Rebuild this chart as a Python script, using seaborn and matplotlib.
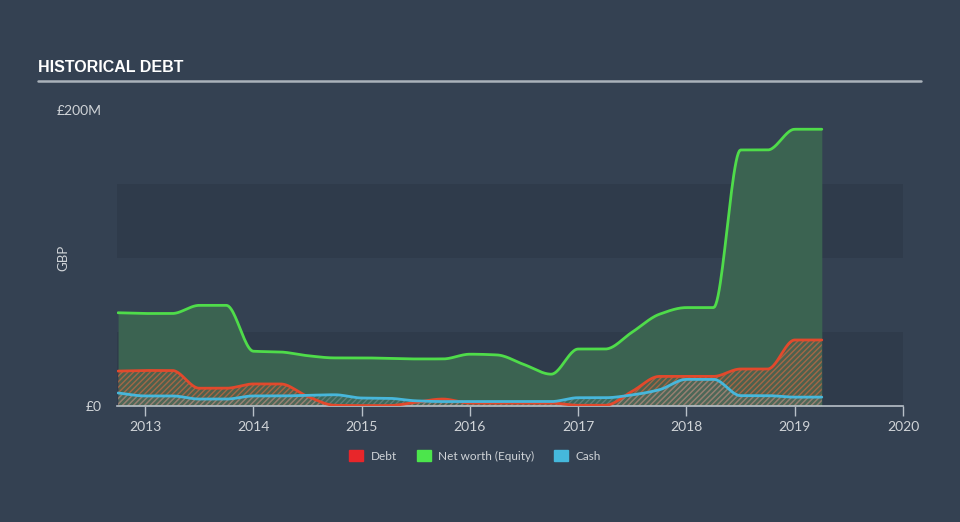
import numpy as np
import pandas as pd
import matplotlib
matplotlib.use("Agg")
import matplotlib.pyplot as plt
import seaborn as sns

# ---- data (GBP millions), quarterly report dates as decimal years ----
dates = [2012.75, 2013.0, 2013.25, 2013.5, 2013.75, 2014.0, 2014.25, 2014.5, 2014.75,
         2015.0, 2015.25, 2015.5, 2015.75, 2016.0, 2016.25, 2016.5, 2016.75,
         2017.0, 2017.25, 2017.5, 2017.75, 2018.0, 2018.25, 2018.5, 2018.75,
         2019.0, 2019.25]
equity = [63, 62.5, 62.5, 68, 68, 37, 36.5, 34, 32.5,
          32.5, 32.2, 31.8, 31.8, 35, 34.5, 28, 21.5,
          38.5, 38.5, 50, 62, 66.5, 66.5, 173, 173,
          187, 187]
debt = [23.6, 24, 24, 12, 12, 14.9, 14.9, 6.5, 0.5,
        0.3, 0.3, 2.5, 4.7, 2, 2, 2, 2,
        0.5, 0.5, 10, 20, 20, 20, 25, 25,
        44.6, 44.6]
cash = [8.8, 6.8, 6.8, 4.7, 4.7, 6.8, 6.8, 7.2, 7.6,
        5.4, 5.2, 3.5, 3, 3, 3, 3, 3,
        5.6, 5.6, 7.5, 11, 18, 18, 7, 7,
        6, 6]
year_ticks = [2013, 2014, 2015, 2016, 2017, 2018, 2019, 2020]
ytick_vals = [0, 200]
ytick_labels = ["£0", "£200M"]
legend_labels = ["Debt", "Net worth (Equity)", "Cash"]

BG = "#344152"
BAND = "#2f3b4b"
TXT = "#d0d4d8"
GREEN = "#4fdc4a"
RED = "#e2492c"
BLUE = "#47b7db"


def monotone_path(x, y, n=24):
    """Monotone cubic (Fritsch-Carlson) curve rendering through the data points."""
    x = np.asarray(x, float)
    y = np.asarray(y, float)
    h = np.diff(x)
    d = np.diff(y) / h
    m = np.zeros_like(y)
    m[0], m[-1] = d[0], d[-1]
    for k in range(1, len(x) - 1):
        if d[k - 1] * d[k] <= 0:
            m[k] = 0.0
        else:
            w1 = 2 * h[k] + h[k - 1]
            w2 = h[k] + 2 * h[k - 1]
            m[k] = (w1 + w2) / (w1 / d[k - 1] + w2 / d[k])
    xs, ys = [], []
    for k in range(len(x) - 1):
        t = np.linspace(0, 1, n, endpoint=False)
        h00 = 2 * t**3 - 3 * t**2 + 1
        h10 = t**3 - 2 * t**2 + t
        h01 = -2 * t**3 + 3 * t**2
        h11 = t**3 - t**2
        xs.append(x[k] + t * h[k])
        ys.append(h00 * y[k] + h10 * h[k] * m[k] + h01 * y[k + 1] + h11 * h[k] * m[k + 1])
    xs.append([x[-1]])
    ys.append([y[-1]])
    return np.concatenate(xs), np.concatenate(ys)


sns.set_theme(style="dark")
plt.rcParams["font.family"] = ["Lato", "DejaVu Sans"]
plt.rcParams["hatch.linewidth"] = 1.0

fig = plt.figure(figsize=(9.6, 5.22), dpi=100, facecolor=BG)
ax = fig.add_axes([117 / 960, 1 - 406 / 522, (903 - 117) / 960, 296 / 522])
ax.set_facecolor("none")

# alternating bands
ax.axhspan(0, 50, color=BAND, zorder=0, lw=0)
ax.axhspan(100, 150, color=BAND, zorder=0, lw=0)

ex, ey = monotone_path(dates, equity)
dx, dy = monotone_path(dates, debt)
cx, cy = monotone_path(dates, cash)

ax.fill_between(ex, 0, ey, color="#3b6351", lw=0, zorder=1)
ax.fill_between(dx, 0, dy, facecolor=(0.80, 0.35, 0.25, 0.12), edgecolor=(0.88, 0.42, 0.25, 0.6),
                hatch="//////", lw=0, zorder=2)
ax.fill_between(cx, 0, cy, facecolor=(0.3, 0.7, 0.85, 0.08), edgecolor=(0.55, 0.6, 0.62, 0.45),
                hatch="//////", lw=0, zorder=2)

df = pd.concat([
    pd.DataFrame({"x": ex, "y": ey, "s": legend_labels[1]}),
    pd.DataFrame({"x": dx, "y": dy, "s": legend_labels[0]}),
    pd.DataFrame({"x": cx, "y": cy, "s": legend_labels[2]}),
])
sns.lineplot(data=df, x="x", y="y", hue="s", sort=False, estimator=None,
             palette={legend_labels[0]: RED, legend_labels[1]: GREEN, legend_labels[2]: BLUE},
             hue_order=[legend_labels[1], legend_labels[0], legend_labels[2]],
             lw=2, ax=ax, legend=False, zorder=3)

ax.set_xlim(2012.74, 2020.0)
ax.set_ylim(0, 200)
ax.set_xticks(year_ticks)
ax.set_xticklabels([str(y) for y in year_ticks], color=TXT, fontsize=10)
ax.set_yticks(ytick_vals)
ax.set_yticklabels(ytick_labels, color=TXT, fontsize=10)
ax.tick_params(axis="x", length=7, width=1, color="#b8c0c8", pad=4, bottom=True)
ax.tick_params(axis="y", length=0, pad=11)
ax.set_xlabel("")
ax.set_ylabel("GBP", color=TXT, fontsize=9.5)
ax.yaxis.set_label_coords((69 - 117) / 786, 0.5)
for s in ["top", "left", "right"]:
    ax.spines[s].set_visible(False)
ax.spines["bottom"].set_color("#b8c0c8")
ax.spines["bottom"].set_linewidth(1.2)
ax.grid(False)

# title and rule
fig.text(38 / 960, 1 - 68 / 522, "HISTORICAL DEBT", color="white", fontsize=11.5,
         fontweight="bold", family=["Liberation Sans Narrow", "Liberation Sans", "DejaVu Sans"],
         va="center", ha="left")
fig.add_artist(plt.Line2D([38 / 960, 921 / 960], [1 - 81 / 522, 1 - 81 / 522],
                          color="#aab2ba", lw=1.8))

# legend
handles = [plt.Rectangle((0, 0), 1, 1, color=c) for c in ["#e8262a", "#4ce54c", "#45b8dc"]]
fig.legend(handles, legend_labels, loc="center", bbox_to_anchor=(475 / 960, 1 - 456 / 522),
           ncol=3, frameon=False, fontsize=8.5, labelcolor=TXT, handlelength=1.2,
           handleheight=1.0, columnspacing=1.7, handletextpad=0.6)

fig.savefig("out.png", dpi=100, facecolor=BG)
